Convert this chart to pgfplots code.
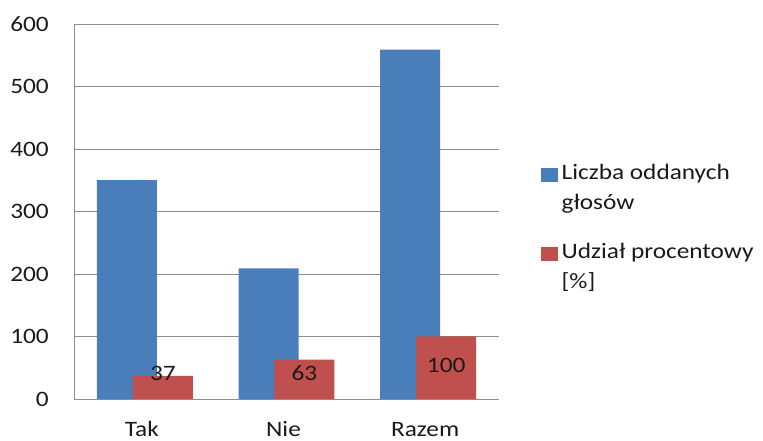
\documentclass[border=0pt]{standalone}
\usepackage{fontspec}
\setmainfont{Carlito}[FakeStretch=1.15]
\usepackage{pgfplots}
\pgfplotsset{compat=1.18}
\definecolor{barblue}{HTML}{4A7EBB}
\definecolor{barred}{HTML}{C0504D}
\definecolor{gridgray}{HTML}{8C8C8C}
\definecolor{txt}{HTML}{1A1A1A}
\begin{document}
\begin{tikzpicture}[x=1pt,y=1pt]
\useasboundingbox (0,0) rectangle (763,441);
\begin{axis}[
  at={(74pt,42pt)}, anchor=south west,
  width=425pt, height=375pt, scale only axis,
  xmin=-0.5, xmax=2.5, ymin=0, ymax=600,
  ytick={0,100,200,300,400,500,600},
  xtick={0,1,2}, xticklabels={Tak,Nie,Razem},
  axis x line*=bottom, axis y line*=left,
  axis line style={-, draw=gridgray, line width=0.9pt},
  ymajorgrids, grid style={draw=gridgray, line width=0.9pt},
  major tick length=0pt, tick style={draw=none},
  /pgf/number format/assume math mode=true,
  font=\fontsize{22}{30}\selectfont,
  tick label style={text=txt, font=\fontsize{22}{30}\selectfont},
  yticklabel style={anchor=east, inner sep=0pt, xshift=-25pt},
  xticklabel style={anchor=base, inner sep=0pt, yshift=-38pt, xshift=-3pt},
  clip=false,
  legend style={draw=none, fill=none, at={(rel axis cs:1.098,0.625)}, anchor=north west,
    inner sep=0pt, outer sep=0pt, row sep=32pt, column sep=4pt,
    font=\fontsize{22}{30}\selectfont, text=txt, align=left,
    nodes={inner sep=0pt, outer sep=0pt}},
  legend cell align=left,
  legend image code/.code={\fill[#1,draw=none] (0pt,6pt) rectangle (17pt,20pt);},
]
\addplot[ybar, bar width=60pt, bar shift=0pt, fill=barblue, draw=none]
  coordinates {(-0.127,350) (0.873,209) (1.873,559)};
\addlegendentry{Liczba oddanych\\głosów}
\addplot[ybar, bar width=60pt, bar shift=0pt, fill=barred, draw=none]
  coordinates {(0.127,37) (1.127,63) (2.127,100)};
\addlegendentry{Udział procentowy\\{[\%]}}
\addplot[draw=none, mark=none, forget plot, nodes near coords, point meta=explicit symbolic,
  nodes near coords style={anchor=center, inner sep=0pt, text=txt, font=\fontsize{22}{30}\selectfont}]
  coordinates {(0.127,41) [37] (1.127,41) [63] (2.127,54.4) [100]};
\end{axis}
\end{tikzpicture}
\end{document}
